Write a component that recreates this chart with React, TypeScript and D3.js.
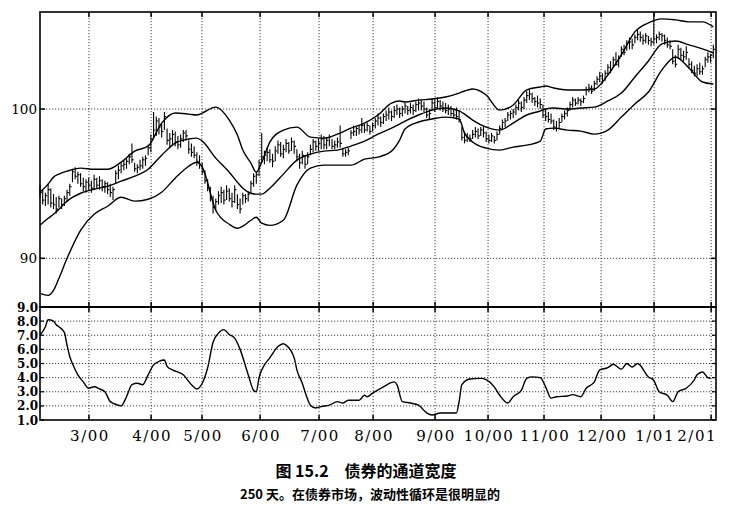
import React from 'react';
import * as d3 from 'd3';

// ---- data ----
const monthLabels = ['3/00', '4/00', '5/00', '6/00', '7/00', '8/00', '9/00', '10/00', '11/00', '12/00', '1/01', '2/01'];
const monthDays = [18.1, 41.1, 59.9, 81.4, 103.2, 123.2, 146.1, 165.7, 186.4, 207.5, 227.1, 248.2];

const priceTicks = [90, 100];
const widthTicks = [1, 2, 3, 4, 5, 6, 7, 8, 9];

const highs = [
  94.9, 94.6, 94.4, 95.0, 94.7, 94.3, 94.1, 94.2, 94.0, 94.2,
  94.6, 95.0, 96.0, 96.1, 95.8, 95.7, 95.4, 95.3, 95.4, 95.2,
  95.6, 95.4, 95.5, 95.3, 95.2, 95.1, 95.0, 94.8, 95.9, 96.2,
  96.4, 96.6, 96.7, 97.0, 97.7, 96.4, 96.3, 96.6, 96.8, 96.9,
  97.6, 98.3, 99.8, 99.5, 99.4, 99.0, 99.8, 98.7, 98.4, 98.6,
  98.5, 98.2, 98.3, 98.6, 98.6, 97.9, 97.7, 97.5, 97.1, 96.9,
  96.4, 95.9, 95.3, 94.8, 94.2, 94.0, 94.5, 94.8, 94.6, 94.9,
  94.7, 94.4, 94.9, 94.3, 94.0, 94.4, 94.3, 94.5, 95.2, 95.7,
  95.8, 96.6, 98.4, 97.2, 97.4, 97.3, 97.0, 97.5, 97.9, 97.8,
  97.6, 98.0, 97.8, 98.1, 97.9, 97.3, 97.0, 97.2, 96.9, 97.1,
  97.6, 98.0, 97.9, 98.0, 98.3, 98.2, 98.1, 98.3, 98.0, 97.9,
  98.1, 98.9, 97.4, 97.3, 97.4, 98.6, 98.9, 98.8, 98.9, 99.4,
  99.0, 99.1, 98.9, 99.1, 99.4, 99.7, 99.5, 99.7, 99.9, 100.1,
  99.9, 100.2, 100.3, 100.1, 100.2, 100.4, 100.2, 100.4, 100.3, 100.5,
  100.7, 100.6, 100.5, 100.1, 100.0, 100.7, 100.6, 100.8, 100.6, 100.5,
  100.4, 100.3, 100.2, 100.0, 100.1, 99.9, 98.8, 98.5, 98.4, 98.3,
  98.6, 98.8, 98.7, 98.8, 98.9, 98.5, 98.3, 98.4, 98.2, 98.5,
  98.9, 99.3, 99.4, 99.8, 99.9, 100.0, 100.3, 100.6, 100.5, 100.8,
  101.2, 101.3, 101.1, 100.8, 100.9, 100.7, 100.3, 100.0, 99.8, 99.7,
  99.3, 99.2, 99.4, 99.7, 99.9, 100.1, 100.5, 100.8, 100.7, 100.8,
  100.7, 100.9, 101.5, 101.7, 101.6, 101.9, 102.2, 102.5, 102.4, 102.6,
  103.0, 103.2, 103.5, 103.8, 103.6, 104.2, 104.3, 104.6, 104.8, 104.7,
  105.0, 105.3, 105.2, 105.0, 105.1, 104.9, 104.8, 106.5, 105.0, 105.2,
  105.1, 105.0, 104.8, 104.6, 104.0, 103.6, 104.3, 104.1, 103.9, 104.2,
  103.4, 103.2, 102.9, 103.0, 103.1, 102.9, 103.5, 103.8, 103.7, 104.3,
];

const lows = [
  94.1, 93.6, 93.5, 93.6, 93.4, 93.3, 93.0, 93.4, 93.3, 93.5,
  93.8, 94.2, 95.1, 95.3, 95.0, 94.8, 94.5, 94.4, 94.6, 94.4,
  94.6, 94.7, 94.6, 94.5, 94.4, 94.3, 94.1, 93.9, 95.0, 95.3,
  95.7, 95.9, 96.0, 96.3, 96.4, 95.8, 95.7, 95.9, 96.0, 96.2,
  96.9, 97.1, 98.1, 98.2, 98.3, 98.1, 98.6, 97.6, 97.4, 97.6,
  97.5, 97.3, 97.4, 97.8, 97.9, 97.0, 96.8, 96.7, 96.2, 96.0,
  95.6, 95.0, 94.5, 93.8, 93.0, 93.2, 93.6, 93.7, 93.6, 93.9,
  93.8, 93.4, 93.7, 93.3, 93.0, 93.6, 93.7, 93.8, 94.4, 94.8,
  95.0, 95.5, 96.4, 96.3, 96.5, 96.4, 96.1, 96.5, 97.0, 96.8,
  96.7, 97.1, 97.0, 97.2, 97.0, 96.5, 96.0, 96.3, 96.0, 96.3,
  96.9, 97.1, 97.2, 97.2, 97.3, 97.3, 97.3, 97.5, 97.3, 97.3,
  97.4, 97.4, 96.8, 96.8, 96.9, 98.0, 98.2, 98.2, 98.3, 98.4,
  98.4, 98.5, 98.3, 98.5, 98.7, 98.9, 98.8, 99.0, 99.2, 99.3,
  99.2, 99.4, 99.6, 99.4, 99.5, 99.7, 99.6, 99.7, 99.6, 99.8,
  99.9, 99.9, 99.8, 99.4, 99.3, 99.9, 99.8, 100.0, 99.9, 99.8,
  99.7, 99.6, 99.5, 99.4, 99.3, 99.1, 97.9, 97.7, 97.8, 97.8,
  98.0, 98.1, 98.0, 98.2, 98.1, 97.8, 97.7, 97.8, 97.7, 97.9,
  98.3, 98.6, 98.8, 99.2, 99.3, 99.4, 99.6, 99.9, 99.8, 100.0,
  100.4, 100.6, 100.4, 100.2, 100.1, 100.0, 99.4, 99.2, 99.1, 99.0,
  98.6, 98.5, 98.7, 99.1, 99.3, 99.5, 99.9, 100.1, 100.2, 100.3,
  100.2, 100.4, 100.9, 101.1, 101.0, 101.2, 101.6, 101.8, 101.7, 101.9,
  102.3, 102.4, 102.8, 102.9, 102.8, 103.5, 103.6, 103.9, 104.0, 104.0,
  104.4, 104.6, 104.5, 104.3, 104.4, 104.3, 104.2, 104.3, 104.4, 104.6,
  104.5, 104.3, 104.1, 104.0, 103.0, 102.8, 103.4, 103.3, 103.2, 103.3,
  102.7, 102.4, 102.2, 102.2, 102.3, 102.3, 102.8, 103.1, 103.1, 103.4,
];

const closes = [
  94.4, 93.9, 94.2, 94.6, 93.7, 93.6, 93.3, 94.0, 93.6, 94.0,
  94.4, 94.8, 95.8, 95.5, 95.6, 95.0, 94.8, 95.1, 94.9, 94.7,
  95.3, 94.9, 95.2, 94.8, 95.0, 94.6, 94.4, 94.6, 95.7, 95.9,
  96.2, 96.3, 96.5, 96.8, 96.6, 96.0, 96.1, 96.2, 96.6, 96.7,
  97.4, 98.0, 98.6, 99.2, 98.8, 98.5, 99.5, 97.9, 98.0, 98.3,
  97.8, 97.6, 98.0, 98.4, 98.2, 97.3, 97.1, 96.9, 96.5, 96.3,
  95.8, 95.2, 94.7, 94.0, 93.4, 93.8, 94.2, 94.4, 93.9, 94.5,
  94.0, 93.8, 94.6, 93.6, 93.3, 94.2, 94.0, 94.3, 95.0, 95.5,
  95.6, 96.4, 96.8, 96.9, 97.1, 96.6, 96.5, 97.2, 97.6, 97.0,
  97.3, 97.7, 97.2, 97.8, 97.5, 96.8, 96.4, 96.9, 96.3, 96.8,
  97.3, 97.8, 97.5, 97.7, 98.0, 97.6, 97.9, 98.1, 97.5, 97.6,
  97.8, 97.7, 97.0, 97.1, 97.2, 98.4, 98.5, 98.7, 98.6, 98.9,
  98.6, 98.9, 98.5, 98.9, 99.2, 99.4, 99.1, 99.5, 99.6, 99.8,
  99.5, 99.9, 100.0, 99.7, 100.0, 100.2, 99.9, 100.1, 99.9, 100.3,
  100.4, 100.2, 100.0, 99.6, 99.7, 100.4, 100.1, 100.5, 100.2, 100.0,
  99.9, 100.0, 99.7, 99.6, 99.5, 99.3, 98.1, 97.9, 98.1, 98.0,
  98.3, 98.5, 98.2, 98.6, 98.4, 98.0, 97.9, 98.2, 97.9, 98.3,
  98.7, 99.1, 99.2, 99.6, 99.7, 99.8, 100.1, 100.4, 100.1, 100.6,
  100.9, 101.0, 100.7, 100.5, 100.4, 100.3, 99.6, 99.5, 99.3, 99.2,
  98.8, 98.7, 99.1, 99.5, 99.7, 99.9, 100.3, 100.6, 100.4, 100.6,
  100.5, 100.7, 101.3, 101.4, 101.2, 101.7, 102.0, 102.2, 101.9, 102.4,
  102.8, 102.6, 103.3, 103.0, 103.4, 104.0, 103.8, 104.4, 104.5, 104.3,
  104.8, 105.0, 104.8, 104.6, 104.9, 104.6, 104.5, 104.7, 104.8, 105.0,
  104.9, 104.6, 104.3, 104.2, 103.2, 103.0, 104.0, 103.6, 103.5, 103.8,
  103.0, 102.6, 102.4, 102.7, 102.5, 102.7, 103.3, 103.5, 103.6, 104.0,
];

const bandDays = [
  0, 3, 5, 7, 10, 15, 20, 25, 30, 35, 40, 45, 50, 55, 58, 60, 65, 70, 73, 75,
  78, 80, 82, 85, 90, 95, 100, 105, 110, 115, 120, 125, 130, 133, 135, 140, 145, 150, 155, 157,
  160, 165, 170, 175, 180, 185, 187, 190, 195, 200, 205, 210, 215, 220, 225, 230, 235, 240, 245, 249,
];
const upperBand = [
  94.43, 94.97, 95.44, 95.64, 95.84, 96.04, 95.97, 95.97, 96.44, 97.18,
  97.52, 99.06, 99.73, 99.66, 99.60, 99.73, 100.13, 99.26, 98.26, 97.25,
  96.38, 95.77, 96.44, 97.79, 98.59, 98.79, 98.12, 98.05, 98.32, 98.72,
  99.06, 99.60, 100.40, 100.54, 100.47, 100.60, 100.67, 100.81, 101.07, 101.21,
  101.34, 100.94, 99.93, 100.27, 101.28, 101.48, 101.54, 101.41, 101.28, 101.28,
  101.34, 102.28, 103.62, 105.17, 105.77, 106.04, 105.97, 105.84, 105.84, 105.50,
];
const middleBand = [
  92.21, 92.68, 92.95, 93.29, 93.83, 94.36, 94.63, 94.83, 95.17, 95.50,
  95.97, 96.91, 97.72, 97.99, 98.05, 97.85, 96.71, 95.77, 95.10, 94.70,
  94.36, 94.30, 94.30, 94.70, 95.64, 96.58, 96.98, 97.18, 97.25, 97.52,
  97.85, 98.32, 98.72, 98.99, 99.19, 99.60, 99.93, 100.07, 99.87, 99.66,
  99.26, 98.79, 98.59, 99.06, 99.60, 99.87, 100.00, 100.07, 100.00, 100.07,
  100.13, 100.54, 101.07, 102.15, 103.22, 104.36, 104.56, 104.30, 104.03, 103.76,
];
const lowerBand = [
  87.65, 87.52, 87.85, 88.66, 90.00, 91.88, 92.95, 93.49, 94.09, 93.83,
  93.96, 94.43, 95.37, 96.17, 96.44, 96.11, 93.22, 92.28, 92.01, 92.15,
  92.55, 92.75, 92.35, 92.21, 92.55, 94.90, 96.04, 96.24, 96.24, 96.24,
  96.64, 96.78, 97.18, 97.92, 98.66, 99.13, 99.33, 99.46, 99.33, 98.39,
  97.79, 97.38, 97.25, 97.45, 97.58, 97.85, 98.66, 98.72, 98.59, 98.52,
  98.32, 98.59, 99.46, 100.34, 101.14, 102.62, 103.49, 102.75, 101.81, 101.68,
];

const widthDays = [
  0, 2, 3, 5, 6, 7, 9, 10, 11, 12, 14, 16, 18, 20, 22, 24, 26, 29, 30, 32,
  34, 36, 38, 40, 42, 44, 46, 47, 49, 53, 56, 58, 60, 62, 64, 66, 68, 70, 72, 74,
  77, 79, 80, 81, 83, 85, 88, 90, 91, 94, 95, 97, 98, 100, 102, 104, 107, 110, 112, 114,
  118, 120, 121, 123, 127, 131, 132, 134, 137, 140, 143, 145, 148, 154, 155, 156, 159, 163, 165, 168,
  170, 173, 175, 178, 180, 182, 185, 187, 189, 191, 195, 197, 200, 202, 205, 207, 210, 212, 215, 217,
  219, 221, 225, 227, 229, 232, 234, 236, 239, 242, 243, 245, 247, 248,
];
const widthValues = [
  7.0, 7.6, 8.1, 8.0, 7.75, 7.6, 7.2, 6.3, 5.5, 5.0, 4.2, 3.7, 3.25, 3.35, 3.2, 3.0, 2.3, 2.05, 2.0, 2.65,
  3.5, 3.6, 3.5, 4.2, 4.9, 5.15, 5.25, 4.8, 4.55, 4.2, 3.5, 3.2, 3.6, 4.7, 6.5, 7.15, 7.4, 7.05, 6.8, 6.0,
  4.2, 3.1, 3.0, 4.0, 4.9, 5.4, 6.2, 6.4, 6.3, 5.4, 4.55, 3.6, 3.0, 2.05, 1.85, 1.95, 2.05, 2.3, 2.2, 2.4,
  2.4, 2.75, 2.65, 2.9, 3.35, 3.7, 3.5, 2.3, 2.2, 2.05, 1.5, 1.35, 1.5, 1.5, 2.3, 3.5, 3.9, 3.95, 3.85, 3.35,
  2.75, 2.2, 2.65, 3.1, 3.95, 4.05, 4.0, 3.35, 2.55, 2.65, 2.7, 2.8, 2.65, 3.25, 3.7, 4.55, 4.7, 4.95, 4.6, 5.0,
  4.75, 5.0, 4.05, 3.8, 3.0, 2.75, 2.3, 3.0, 3.25, 3.85, 4.2, 4.4, 4.0, 3.95,
];

const captionTitle = '图 15.2　债券的通道宽度';
const captionNote = '250 天。在债券市场，波动性循环是很明显的';

// ---- layout ----
const W = 732;
const H = 511;
const left = 40;
const right = 716;
const topY = 12;
const midY = 307;
const botY = 420;

export default function App() {
  const x = d3.scaleLinear().domain([0, 250]).range([left, right]);
  const yP = d3.scaleLinear().domain([86.74, 106.5]).range([midY, topY]);
  const yW = d3.scaleLinear().domain([1, 9]).range([botY, midY]);

  const bandLine = (vals: number[]) =>
    d3
      .line<number>()
      .x((_, i) => x(bandDays[i]))
      .y((v) => yP(v))
      .curve(d3.curveMonotoneX)(vals) || '';

  const widthPath =
    d3
      .line<number>()
      .x((_, i) => x(widthDays[i]))
      .y((v) => yW(v))
      .curve(d3.curveMonotoneX)(widthValues) || '';

  const gridStyle = { stroke: '#111', strokeWidth: 0.8, strokeDasharray: '1.2,1.8' };
  const serif = '"DejaVu Serif", "Liberation Serif", serif';

  return (
    <svg
      width={W}
      height={H}
      viewBox={`0 0 ${W} ${H}`}
      style={{ position: 'absolute', left: 0, top: 0, background: '#fff' }}
    >
      <rect x={0} y={0} width={W} height={H} fill="#fff" />
      {monthDays.map((d, i) => (
        <line key={'vg' + i} x1={x(d)} x2={x(d)} y1={topY} y2={botY} style={gridStyle} />
      ))}
      {priceTicks.map((t) => (
        <line key={'pg' + t} x1={left} x2={right} y1={yP(t)} y2={yP(t)} style={gridStyle} />
      ))}
      {widthTicks
        .filter((t) => t > 1 && t < 9)
        .map((t) => (
          <line key={'wg' + t} x1={left} x2={right} y1={yW(t)} y2={yW(t)} style={gridStyle} />
        ))}

      <path d={bandLine(upperBand)} fill="none" stroke="#000" strokeWidth={1.4} />
      <path d={bandLine(middleBand)} fill="none" stroke="#000" strokeWidth={1.4} />
      <path d={bandLine(lowerBand)} fill="none" stroke="#000" strokeWidth={1.4} />

      {highs.map((h, i) => (
        <g key={'b' + i} stroke="#000" strokeWidth={1.1}>
          <line x1={x(i)} x2={x(i)} y1={yP(h)} y2={yP(lows[i])} />
          <line x1={x(i)} x2={x(i) + 1.8} y1={yP(closes[i])} y2={yP(closes[i])} />
        </g>
      ))}

      <path d={widthPath} fill="none" stroke="#000" strokeWidth={1.4} />

      <rect x={left} y={topY} width={right - left} height={midY - topY} fill="none" stroke="#000" strokeWidth={1.6} />
      <rect x={left} y={midY} width={right - left} height={botY - midY} fill="none" stroke="#000" strokeWidth={1.6} />
      <line x1={left} x2={right} y1={midY} y2={midY} stroke="#000" strokeWidth={2} />

      {monthDays.map((d, i) => (
        <g key={'mt' + i} stroke="#000" strokeWidth={1.5}>
          <line x1={x(d)} x2={x(d)} y1={topY} y2={topY + 5} />
          <line x1={x(d)} x2={x(d)} y1={midY - 5} y2={midY + 5} />
          <line x1={x(d)} x2={x(d)} y1={botY - 5} y2={botY} />
        </g>
      ))}
      {priceTicks.map((t) => (
        <g key={'pt' + t} stroke="#000" strokeWidth={1.5}>
          <line x1={left} x2={left + 5} y1={yP(t)} y2={yP(t)} />
          <line x1={right - 5} x2={right} y1={yP(t)} y2={yP(t)} />
        </g>
      ))}
      {widthTicks.map((t) => (
        <g key={'wt' + t} stroke="#000" strokeWidth={1.2}>
          <line x1={left} x2={left + 4} y1={yW(t)} y2={yW(t)} />
          <line x1={right - 4} x2={right} y1={yW(t)} y2={yW(t)} />
        </g>
      ))}

      {priceTicks.map((t) => (
        <text key={'pl' + t} x={37} y={yP(t) + 5} textAnchor="end" fontFamily={serif} fontSize={13.5} fill="#000">
          {t}
        </text>
      ))}
      {widthTicks.map((t) => (
        <text
          key={'wl' + t}
          x={38}
          y={yW(t) + 4.5}
          textAnchor="end"
          fontFamily={serif}
          fontWeight="bold"
          fontSize={12}
          fill="#000"
        >
          {t.toFixed(1)}
        </text>
      ))}
      {monthLabels.map((m, i) => {
        const cx = x(monthDays[i]);
        const last = i === monthLabels.length - 1;
        return (
          <text
            key={'ml' + i}
            x={last ? 717 : cx + 1}
            y={441}
            textAnchor={last ? 'end' : 'middle'}
            fontFamily={serif}
            fontSize={15}
            letterSpacing={1.5}
            fill="#000"
          >
            {m}
          </text>
        );
      })}

      <text
        x={366}
        y={477}
        textAnchor="middle"
        fontFamily='"Noto Sans CJK SC", sans-serif'
        fontWeight="bold"
        fontSize={16}
        fill="#000"
      >
        {captionTitle}
      </text>
      <text
        x={370}
        y={499}
        textAnchor="middle"
        fontFamily='"Noto Sans CJK SC", sans-serif'
        fontWeight="bold"
        fontSize={13}
        fill="#000"
      >
        {captionNote}
      </text>
    </svg>
  );
}
